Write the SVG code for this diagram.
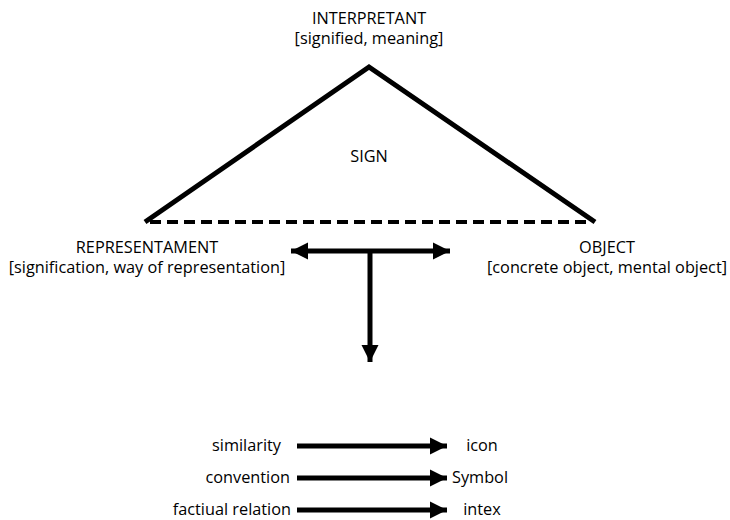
<svg xmlns="http://www.w3.org/2000/svg" width="730" height="520" viewBox="0 0 730 520">
<defs>
<style>
text{font-family:"Open Sans","Noto Sans","Liberation Sans",sans-serif;font-size:16.3px;fill:#000}
.m{text-anchor:middle}
.e{text-anchor:end}
.ln{stroke:#000;stroke-width:5;fill:none}
</style>
<marker id="ah" viewBox="0 0 10 10" refX="10" refY="5" markerWidth="3.4" markerHeight="3.8" orient="auto-start-reverse" markerUnits="strokeWidth">
<path d="M0,0L10,5L0,10z" fill="#000"/>
</marker>
</defs>
<rect width="730" height="520" fill="#fff"/>
<g id="sign">
<polyline class="ln" points="145,222 369,67 595,222" stroke-linejoin="miter"/>
<line x1="150" y1="222" x2="592" y2="222" stroke="#000" stroke-width="4" stroke-dasharray="11,6"/>
<text class="m" x="369" y="162">SIGN</text>
</g>
<g id="interpretant">
<text class="m" x="369" y="24">INTERPRETANT</text>
<text class="m" x="369" y="44">[signified, meaning]</text>
</g>
<g id="representament">
<text class="m" x="147" y="253">REPRESENTAMENT</text>
<text class="m" x="147" y="273">[signification, way of representation]</text>
</g>
<g id="object">
<text class="m" x="607" y="253">OBJECT</text>
<text class="m" x="607" y="273">[concrete object, mental object]</text>
</g>
<g id="connectors">
<line class="ln" x1="291" y1="251" x2="450" y2="251" marker-start="url(#ah)" marker-end="url(#ah)"/>
<line class="ln" x1="370" y1="251" x2="370" y2="362" marker-end="url(#ah)"/>
<line class="ln" x1="297" y1="446" x2="447" y2="446" marker-end="url(#ah)"/>
<line class="ln" x1="297" y1="478" x2="447" y2="478" marker-end="url(#ah)"/>
<line class="ln" x1="297" y1="510" x2="447" y2="510" marker-end="url(#ah)"/>
</g>
<g id="labels">
<text class="e" x="281" y="451">similarity</text>
<text class="e" x="290" y="483">convention</text>
<text class="e" x="291" y="515">factiual relation</text>
<text class="m" x="482" y="451">icon</text>
<text class="m" x="480" y="483">Symbol</text>
<text class="m" x="482" y="515">intex</text>
</g>
</svg>
